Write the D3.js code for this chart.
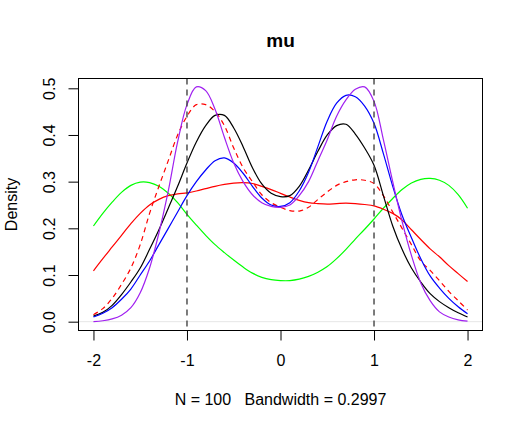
<!DOCTYPE html>
<html>
<head>
<meta charset="utf-8">
<script src="https://cdn.jsdelivr.net/npm/d3@7"></script>
<style>
  body { margin: 0; background: #fff; }
  text { font-family: "Liberation Sans", Arial, sans-serif; fill: #000; }
</style>
</head>
<body>
<div id="chart"></div>
<script>
// density estimates, evaluated on a grid of step 0.1
var xs = d3.range(-20, 21).map(function(i) { return i / 10; });

var black = [0.012, 0.02, 0.035, 0.058, 0.085, 0.115, 0.155, 0.197, 0.243, 0.29,
  0.34, 0.385, 0.42, 0.442, 0.442, 0.415, 0.375, 0.33, 0.295, 0.275,
  0.268, 0.27, 0.29, 0.325, 0.365, 0.40, 0.42, 0.423, 0.402, 0.372,
  0.335, 0.27, 0.205, 0.155, 0.115, 0.085, 0.06, 0.043, 0.03, 0.019, 0.01];

var blue = [0.01, 0.018, 0.03, 0.048, 0.07, 0.1, 0.13, 0.165, 0.2, 0.235,
  0.27, 0.30, 0.325, 0.345, 0.351, 0.34, 0.318, 0.29, 0.265, 0.25,
  0.247, 0.255, 0.28, 0.32, 0.375, 0.43, 0.468, 0.485, 0.482, 0.462,
  0.425, 0.36, 0.29, 0.228, 0.18, 0.135, 0.098, 0.072, 0.05, 0.032, 0.017];

var purple = [0.0, 0.002, 0.006, 0.014, 0.03, 0.062, 0.115, 0.19, 0.28, 0.385,
  0.465, 0.503, 0.495, 0.455, 0.395, 0.34, 0.30, 0.272, 0.255, 0.247,
  0.245, 0.25, 0.27, 0.30, 0.345, 0.39, 0.44, 0.475, 0.498, 0.503,
  0.472, 0.39, 0.30, 0.215, 0.142, 0.083, 0.045, 0.021, 0.01, 0.004, 0.001];

var redDashed = [0.015, 0.028, 0.05, 0.08, 0.115, 0.165, 0.232, 0.29, 0.345, 0.40,
  0.44, 0.465, 0.465, 0.45, 0.42, 0.372, 0.33, 0.30, 0.272, 0.255,
  0.245, 0.238, 0.237, 0.245, 0.262, 0.278, 0.292, 0.30, 0.304, 0.303,
  0.296, 0.27, 0.235, 0.20, 0.165, 0.13, 0.11, 0.088, 0.065, 0.045, 0.025];

var red = [0.109, 0.135, 0.16, 0.185, 0.21, 0.232, 0.25, 0.262, 0.27, 0.274,
  0.276, 0.28, 0.285, 0.29, 0.294, 0.297, 0.298, 0.296, 0.29, 0.283,
  0.275, 0.267, 0.26, 0.255, 0.253, 0.252, 0.253, 0.254, 0.253, 0.251,
  0.248, 0.241, 0.232, 0.218, 0.197, 0.176, 0.156, 0.139, 0.12, 0.103, 0.086];

var green = [0.205, 0.232, 0.256, 0.277, 0.292, 0.299, 0.298, 0.29, 0.275, 0.255,
  0.23, 0.207, 0.185, 0.165, 0.148, 0.132, 0.117, 0.104, 0.095, 0.09,
  0.088, 0.088, 0.091, 0.097, 0.106, 0.118, 0.135, 0.155, 0.177, 0.198,
  0.22, 0.243, 0.264, 0.283, 0.297, 0.305, 0.307, 0.303, 0.292, 0.272, 0.243];

var series = [
  { name: "green",  vals: green,     color: "#00ff00", dash: null },
  { name: "red",    vals: red,       color: "#ff0000", dash: null },
  { name: "redDashed", vals: redDashed, color: "#ff0000", dash: "5,4" },
  { name: "black",  vals: black,     color: "#000000", dash: null },
  { name: "blue",   vals: blue,      color: "#0000ff", dash: null },
  { name: "purple", vals: purple,    color: "#a020f0", dash: null }
];

var xTicks = [-2, -1, 0, 1, 2];
var yTicks = [0.0, 0.1, 0.2, 0.3, 0.4, 0.5];
var refLines = [-1, 1];

var W = 523, H = 429;
var pLeft = 78.5, pRight = 482.5, pTop = 78.5, pBottom = 330.5;
var font = "Liberation Sans, Arial, sans-serif";

var svg = d3.select("#chart").append("svg")
  .attr("width", W)
  .attr("height", H);

var x = d3.scaleLinear().domain([-2.16, 2.16]).range([pLeft, pRight]);
var y = d3.scaleLinear().domain([-0.0189, 0.521]).range([pBottom, pTop]);

// zero line (light gray, like plot.density)
svg.append("line")
  .attr("x1", pLeft).attr("x2", pRight)
  .attr("y1", y(0)).attr("y2", y(0))
  .attr("stroke", "#e6e6e6").attr("stroke-width", 1);

// curves
var line = d3.line()
  .x(function(d) { return x(d[0]); })
  .y(function(d) { return y(d[1]); })
  .curve(d3.curveCatmullRom.alpha(0.5));

series.forEach(function(s) {
  svg.append("path")
    .datum(xs.map(function(v, i) { return [v, s.vals[i]]; }))
    .attr("d", line)
    .attr("fill", "none")
    .attr("stroke", s.color)
    .attr("stroke-width", 1.2)
    .attr("stroke-dasharray", s.dash);
});

// vertical dashed reference lines
svg.selectAll(".ref").data(refLines).enter().append("line")
  .attr("class", "ref")
  .attr("x1", function(d) { return x(d); })
  .attr("x2", function(d) { return x(d); })
  .attr("y1", pTop).attr("y2", pBottom)
  .attr("stroke", "#444").attr("stroke-width", 1.4)
  .attr("stroke-dasharray", "6,5");

// box
svg.append("rect")
  .attr("x", pLeft).attr("y", pTop)
  .attr("width", pRight - pLeft).attr("height", pBottom - pTop)
  .attr("fill", "none").attr("stroke", "#000").attr("stroke-width", 1);

// x axis (R style: line only between end ticks)
var xAxis = svg.append("g").attr("transform", "translate(0," + pBottom + ")")
  .call(d3.axisBottom(x).tickValues(xTicks).tickSize(10).tickPadding(14)
    .tickFormat(function(d) { return String(d); }));
xAxis.select(".domain").attr("d", "M" + x(-2) + ",0H" + x(2));
xAxis.selectAll("text").attr("fill", "#000")
  .style("font-size", "16px").style("font-family", font);

// y axis, labels parallel to the axis
var yAxis = svg.append("g").attr("transform", "translate(" + pLeft + ",0)")
  .call(d3.axisLeft(y).tickValues(yTicks).tickSize(10).tickFormat(d3.format(".1f")));
yAxis.select(".domain").attr("d", "M0," + y(0) + "V" + y(0.5));
yAxis.selectAll("text")
  .attr("transform", "rotate(-90)")
  .attr("x", 0)
  .attr("y", -24)
  .attr("dy", 0)
  .attr("text-anchor", "middle")
  .attr("fill", "#000")
  .style("font-size", "16px").style("font-family", font);

// titles
svg.append("text")
  .attr("x", (pLeft + pRight) / 2).attr("y", 47)
  .attr("text-anchor", "middle")
  .style("font-size", "19px").style("font-weight", "bold")
  .text("mu");

svg.append("text")
  .attr("x", (pLeft + pRight) / 2).attr("y", 405)
  .attr("text-anchor", "middle")
  .style("font-size", "16px")
  .style("white-space", "pre")
  .text("N = 100   Bandwidth = 0.2997");

svg.append("text")
  .attr("transform", "translate(17," + ((pTop + pBottom) / 2) + ") rotate(-90)")
  .attr("text-anchor", "middle")
  .style("font-size", "16px")
  .text("Density");
</script>
</body>
</html>
